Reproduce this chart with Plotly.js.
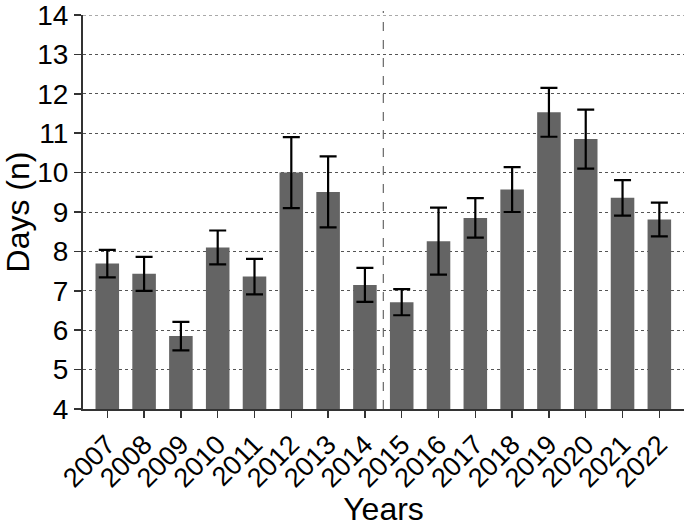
<!DOCTYPE html>
<html>
<head>
<meta charset="utf-8">
<script src="https://cdn.plot.ly/plotly-3.0.1.min.js"></script>
<style>html,body{margin:0;padding:0;background:#fff;}#chart{width:685px;height:527px;}</style>
</head>
<body>
<div id="chart"></div>
<script>
const years = ["2007","2008","2009","2010","2011","2012","2013","2014","2015","2016","2017","2018","2019","2020","2021","2022"];
const days = [7.69, 7.43, 5.85, 8.10, 7.36, 10.0, 9.51, 7.15, 6.71, 8.26, 8.85, 9.57, 11.53, 10.85, 9.36, 8.81];
const errors = [0.35, 0.43, 0.36, 0.43, 0.45, 0.9, 0.9, 0.43, 0.33, 0.85, 0.5, 0.57, 0.62, 0.75, 0.45, 0.43];
const yTicks = [4, 5, 6, 7, 8, 9, 10, 11, 12, 13, 14];
const dividerPosition = 7.5;

const font = "Liberation Sans, Arial, sans-serif";

const trace = {
  type: "bar",
  x: years,
  y: days,
  marker: {color: "#646464", line: {width: 0}},
  error_y: {type: "data", array: errors, visible: true, color: "#000", thickness: 2.2, width: 8.5},
  hoverinfo: "x+y"
};

const layout = {
  width: 685,
  height: 527,
  margin: {l: 83, r: 1, t: 15, b: 118},
  paper_bgcolor: "#fff",
  plot_bgcolor: "#fff",
  showlegend: false,
  bargap: 0.36,
  font: {family: font, color: "#000"},
  xaxis: {
    type: "category",
    range: [-0.66, 15.67],
    tickangle: -45,
    tickfont: {size: 27, family: font, color: "#000"},
    ticks: "outside",
    ticklen: 7,
    tickwidth: 1.5,
    tickcolor: "#333",
    showline: true,
    linecolor: "#333",
    linewidth: 2,
    showgrid: false,
    zeroline: false,
    ticklabeloverflow: "allow",
    title: {text: "Years", font: {size: 32, family: font, color: "#000"}, standoff: 27}
  },
  yaxis: {
    range: [4, 14],
    tickvals: yTicks,
    ticktext: yTicks.map(String),
    tickfont: {size: 28, family: font, color: "#000"},
    ticks: "outside",
    ticklen: 7,
    tickwidth: 1.5,
    tickcolor: "#333",
    showline: true,
    linecolor: "#333",
    linewidth: 2,
    showgrid: true,
    gridcolor: "#555",
    gridwidth: 1,
    griddash: "dot",
    zeroline: false,
    ticklabeloverflow: "allow",
    title: {text: "Days (n)", font: {size: 32, family: font, color: "#000"}, standoff: 4}
  },
  shapes: [{
    type: "line",
    xref: "x",
    yref: "paper",
    x0: dividerPosition,
    x1: dividerPosition,
    y0: 0,
    y1: 1.01,
    line: {color: "#666", width: 1.2, dash: "dash"},
    layer: "above"
  }, {
    type: "line",
    xref: "paper",
    yref: "y",
    x0: 0,
    x1: 1,
    y0: yTicks[yTicks.length - 1],
    y1: yTicks[yTicks.length - 1],
    line: {color: "#555", width: 1, dash: "dot"},
    layer: "below"
  }]
};

Plotly.newPlot("chart", [trace], layout, {displayModeBar: false, staticPlot: true});
</script>
</body>
</html>
